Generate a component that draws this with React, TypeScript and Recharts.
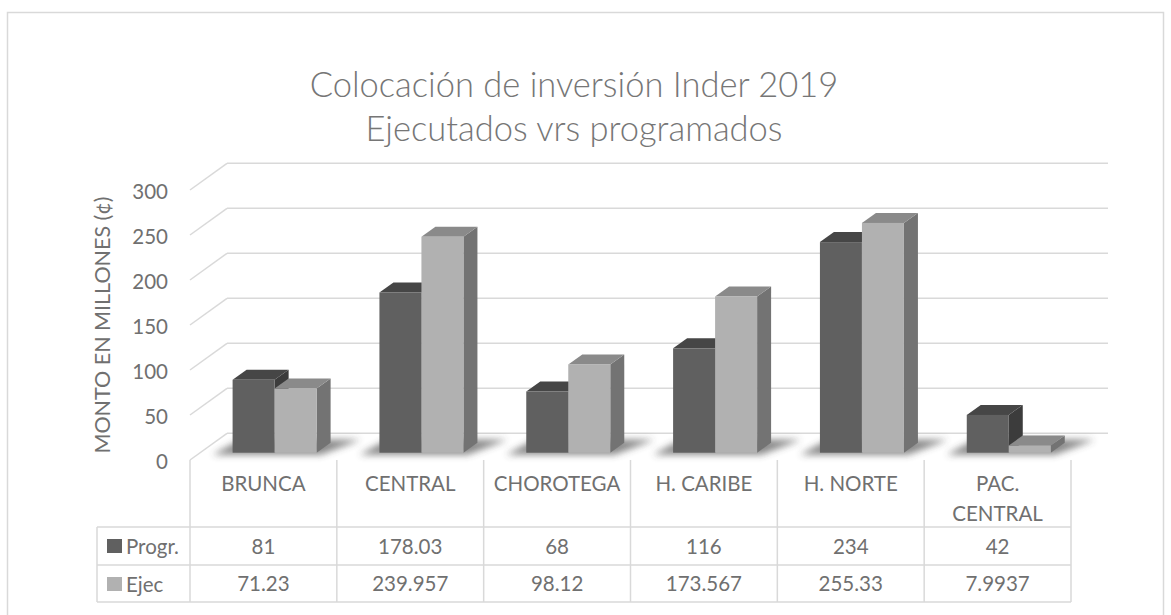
import React from "react";
import { BarChart, Bar, XAxis, YAxis, CartesianGrid } from "recharts";

// ---------- data ----------
const categories = ["BRUNCA", "CENTRAL", "CHOROTEGA", "H. CARIBE", "H. NORTE", "PAC. CENTRAL"];
const progrValues = [81, 178.03, 68, 116, 234, 42];
const ejecValues = [71.23, 239.957, 98.12, 173.567, 255.33, 7.9937];
const seriesNames = ["Progr.", "Ejec"];
const yTicks = [0, 50, 100, 150, 200, 250, 300];
const titleLines = ["Colocación de inversión Inder 2019", "Ejecutados vrs programados"];
const yAxisTitle = "MONTO EN MILLONES (¢)";

const data = categories.map((c, i) => ({ cat: c, progr: progrValues[i], ejec: ejecValues[i] }));

// ---------- layout ----------
const W = 1171;
const H = 615;
const PLOT_LEFT = 190;
const PLOT_RIGHT = 1071;
const PLOT_TOP = 182.7;
const PLOT_BOTTOM = 452.7;
const BAND = (PLOT_RIGHT - PLOT_LEFT) / categories.length;

const WALL_DX = 37;
const WALL_BACK = 19.4;
const FLOOR_FRONT = 7.3;

const BAR_SHIFT = 11.6;
const BAR_DX = 14;
const BAR_DY = 10;

const HEADER_TOP = 460;
const ROW1_TOP = 527;
const ROW2_TOP = 565;
const TABLE_BOTTOM = 602;
const TABLE_LEFT = 97;

const FONT = "Lato, 'Open Sans', sans-serif";
const TEXT = "#707070";
const GRID = "#d9d9d9";
const FS = 20.5;

const palette = {
  progr: { front: "#606060", top: "#464646", side: "#3c3c3c" },
  ejec: { front: "#b1b1b1", top: "#8a8a8a", side: "#737373" },
};

const makeShape = (key: "progr" | "ejec", withShadow: boolean) => (props: any) => {
  const { x, y, width, height } = props;
  if (x == null || y == null) return <g />;
  const c = palette[key];
  const fx = x + BAR_SHIFT;
  const w = width;
  const b = y + height;
  const side = `${fx + w},${y} ${fx + w + BAR_DX},${y - BAR_DY} ${fx + w + BAR_DX},${b - BAR_DY} ${fx + w},${b}`;
  const top = `${fx},${y} ${fx + BAR_DX},${y - BAR_DY} ${fx + w + BAR_DX},${y - BAR_DY} ${fx + w},${y}`;
  const shadow = `${fx - 20},${b + 2} ${fx + 2 * w + 4},${b + 2} ${fx + 2 * w + BAR_DX + 30},${b - 13} ${fx + 8},${b - 13}`;
  return (
    <g>
      {withShadow && <polygon points={shadow} fill="#3a3a3a" opacity={0.6} filter="url(#shadowBlur)" />}
      <polygon points={side} fill={c.side} />
      <polygon points={top} fill={c.top} />
      <rect x={fx} y={y} width={w} height={height} fill={c.front} />
    </g>
  );
};

const gridLine = (props: any) => {
  const { x1, x2, y1, key } = props;
  const yb = y1 - WALL_BACK;
  return (
    <g key={key}>
      <line x1={x1} y1={y1 + FLOOR_FRONT} x2={x1 + WALL_DX} y2={yb} stroke={GRID} strokeWidth={1.5} />
      <line x1={x1 + WALL_DX} y1={yb} x2={x2 + WALL_DX} y2={yb} stroke={GRID} strokeWidth={1.5} />
    </g>
  );
};

const YTick = (props: any) => {
  const { y, payload } = props;
  return (
    <text x={PLOT_LEFT - 22} y={y + 9 + FS * 0.36} textAnchor="end" fontFamily={FONT} fontSize={FS} fill={TEXT}>
      {payload.value}
    </text>
  );
};

const CategoryTick = (props: any) => {
  const { x, payload, index } = props;
  const i = payload && payload.index != null ? payload.index : index;
  const half = BAND / 2;
  const label = String(payload.value);
  const lines = label.length > 10 && label.includes(" ") ? label.split(" ") : [label];
  return (
    <g>
      {i === 0 && (
        <line x1={x - half} y1={HEADER_TOP} x2={x - half} y2={TABLE_BOTTOM} stroke={GRID} strokeWidth={1.5} />
      )}
      <line x1={x + half} y1={HEADER_TOP} x2={x + half} y2={TABLE_BOTTOM} stroke={GRID} strokeWidth={1.5} />
      <text textAnchor="middle" fontFamily={FONT} fontSize={FS} fill={TEXT}>
        {lines.map((l, k) => (
          <tspan key={k} x={x} y={490.5 + k * 30}>
            {l}
          </tspan>
        ))}
      </text>
      <text x={x} y={553.5} textAnchor="middle" fontFamily={FONT} fontSize={FS} fill={TEXT}>
        {String(progrValues[i])}
      </text>
      <text x={x} y={590.5} textAnchor="middle" fontFamily={FONT} fontSize={FS} fill={TEXT}>
        {String(ejecValues[i])}
      </text>
    </g>
  );
};

export default function App() {
  return (
    <div style={{ position: "absolute", left: 0, top: 0, width: W, height: H, background: "#fff" }}>
      <svg width={0} height={0} style={{ position: "absolute" }}>
        <defs>
          <filter id="shadowBlur" x="-50%" y="-50%" width="200%" height="200%">
            <feGaussianBlur stdDeviation="3.5" />
          </filter>
        </defs>
      </svg>
      <BarChart
        width={W}
        height={H}
        data={data}
        margin={{ top: PLOT_TOP, right: W - PLOT_RIGHT, bottom: 0, left: 0 }}
        barSize={42}
        barGap={0}
      >
        <CartesianGrid vertical={false} horizontal={gridLine} />
        <YAxis
          width={PLOT_LEFT}
          domain={[0, 300]}
          ticks={yTicks}
          axisLine={false}
          tickLine={false}
          tick={<YTick />}
          interval={0}
        />
        <XAxis
          dataKey="cat"
          height={H - PLOT_BOTTOM}
          axisLine={false}
          tickLine={false}
          interval={0}
          tick={<CategoryTick />}
        />
        <Bar dataKey="progr" name={seriesNames[0]} isAnimationActive={false} shape={makeShape("progr", true)} />
        <Bar dataKey="ejec" name={seriesNames[1]} isAnimationActive={false} shape={makeShape("ejec", false)} />
      </BarChart>
      <svg
        width={W}
        height={H}
        style={{ position: "absolute", left: 0, top: 0, pointerEvents: "none" }}
      >
        <rect x={7.5} y={12.5} width={1156} height={640} fill="none" stroke={GRID} strokeWidth={1.5} />
        <text textAnchor="middle" fontFamily={FONT} fontWeight={300} fontSize={34.5} fill="#767676">
          <tspan x={574} y={97}>{titleLines[0]}</tspan>
          <tspan x={574} y={141}>{titleLines[1]}</tspan>
        </text>
        <text
          transform={`translate(110, 325) rotate(-90)`}
          textAnchor="middle"
          fontFamily={FONT}
          fontSize={21.5}
          fill={TEXT}
        >
          {yAxisTitle}
        </text>
        {[ROW1_TOP, ROW2_TOP, TABLE_BOTTOM].map((yy, k) => (
          <line key={k} x1={TABLE_LEFT} y1={yy} x2={PLOT_RIGHT} y2={yy} stroke={GRID} strokeWidth={1.5} />
        ))}
        <line x1={TABLE_LEFT} y1={ROW1_TOP} x2={TABLE_LEFT} y2={TABLE_BOTTOM} stroke={GRID} strokeWidth={1.5} />
        {seriesNames.map((n, k) => {
          const top = k === 0 ? ROW1_TOP : ROW2_TOP;
          const fill = k === 0 ? palette.progr.front : palette.ejec.front;
          return (
            <g key={n}>
              <rect x={107} y={top + 12} width={15} height={14} fill={fill} />
              <text x={126} y={top + 26.5} fontFamily={FONT} fontSize={FS} fill={TEXT}>
                {n}
              </text>
            </g>
          );
        })}
      </svg>
    </div>
  );
}
